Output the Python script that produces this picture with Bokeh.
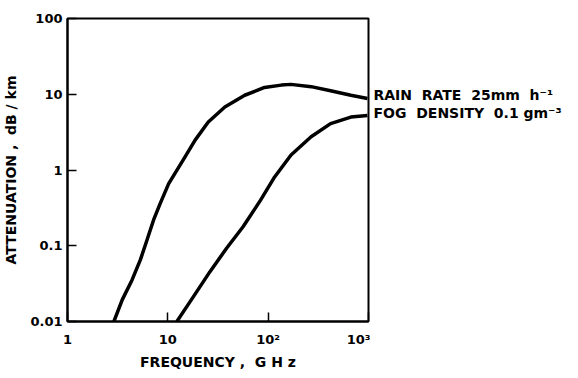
from bokeh.plotting import figure
from bokeh.models import FixedTicker, ColumnDataSource
from bokeh.layouts import row
from bokeh.core.properties import value
from bokeh.embed import file_html
from bokeh.resources import INLINE

# Data
rain_freq = [2.9, 3.51, 4.4, 5.32, 6.2, 7.21, 8.4, 10.2, 14.9, 18.7, 25.3, 37, 58.4, 92, 135, 169, 268, 419, 667, 976]
rain_att = [0.01, 0.0193, 0.0354, 0.065, 0.119, 0.219, 0.363, 0.66, 1.5, 2.48, 4.3, 6.8, 9.7, 12.3, 13.2, 13.5, 12.6, 11.1, 9.7, 8.8]

fog_freq = [12.3, 18.0, 26.3, 38.5, 56.2, 84, 116, 169, 268, 419, 667, 976]
fog_att = [0.01, 0.0213, 0.0455, 0.0927, 0.178, 0.40, 0.81, 1.58, 2.75, 4.1, 5.0, 5.25]

NB = "\u00a0"
series_labels = ["RAIN" + NB * 2 + "RATE" + NB * 2 + "25mm" + NB * 2 + "h\u207b\u00b9",
                 "FOG" + NB * 2 + "DENSITY" + NB * 2 + "0.1" + NB + "gm\u207b\u00b3"]
label_y = [9.7, 5.7]

x_ticks = [1, 10, 100, 1000]
x_tick_labels = ["1", "10", "10\u00b2", "10\u00b3"]
y_ticks = [0.01, 0.1, 1, 10, 100]
y_tick_labels = ["0.01", "0.1", "1", "10", "100"]

FONT = "DejaVu Sans"
H = 378
TOP, BOTTOM = 18, 57

p = figure(width=370, height=H, x_axis_type="log", y_axis_type="log",
           x_range=(1, 1000), y_range=(0.01, 100),
           output_backend="svg", toolbar_location=None,
           min_border_left=65, min_border_right=2, min_border_top=TOP, min_border_bottom=BOTTOM)

p.grid.visible = False
p.outline_line_color = "black"
p.outline_line_width = 2
p.background_fill_color = "white"
p.border_fill_color = "white"

p.line(rain_freq, rain_att, line_color="black", line_width=3.5, line_join="round")
p.line(fog_freq, fog_att, line_color="black", line_width=3.5, line_join="round")

for ax in (p.xaxis[0], p.yaxis[0]):
    ax.axis_line_width = 2
    ax.major_tick_in = 9
    ax.major_tick_out = 0
    ax.major_tick_line_width = 1.5
    ax.minor_tick_in = 0
    ax.minor_tick_out = 0
    ax.major_label_text_font = FONT
    ax.major_label_text_font_style = "bold"
    ax.major_label_text_font_size = "13px"
    ax.major_label_text_color = "black"
    ax.axis_label_text_font = FONT
    ax.axis_label_text_font_style = "bold"
    ax.axis_label_text_font_size = "14px"
    ax.axis_label_text_color = "black"

p.xaxis.ticker = FixedTicker(ticks=x_ticks)
p.yaxis.ticker = FixedTicker(ticks=y_ticks)
p.xaxis.major_label_overrides = {float(t): l for t, l in zip(x_ticks, x_tick_labels)}
p.yaxis.major_label_overrides = {float(t): l for t, l in zip(y_ticks, y_tick_labels)}
p.xaxis.major_label_standoff = 10
p.yaxis.major_label_standoff = 5
p.xaxis.axis_label = "FREQUENCY" + NB + "," + NB * 2 + "G" + NB + "H" + NB + "z"
p.yaxis.axis_label = "ATTENUATION" + NB + "," + NB * 2 + "dB" + NB + "/" + NB + "km"
p.xaxis.axis_label_standoff = 4
p.yaxis.axis_label_standoff = 8

# right-hand panel holding the series labels, sharing the y scale
q = figure(width=206, height=H, y_axis_type="log", x_range=(0, 1), y_range=p.y_range,
           output_backend="svg", toolbar_location=None,
           min_border_left=0, min_border_right=0, min_border_top=TOP, min_border_bottom=BOTTOM)
q.axis.visible = False
q.grid.visible = False
q.outline_line_color = None
q.background_fill_color = "white"
q.border_fill_color = "white"
src = ColumnDataSource(dict(x=[0] * len(series_labels), y=label_y, t=series_labels))
q.text(x="x", y="y", text="t", source=src, x_offset=3, text_font=value(FONT),
       text_font_style="bold", text_font_size="14px", text_baseline="middle",
       text_color="black")

layout = row(p, q, spacing=0)
open("out.html", "w").write(file_html(layout, INLINE))
